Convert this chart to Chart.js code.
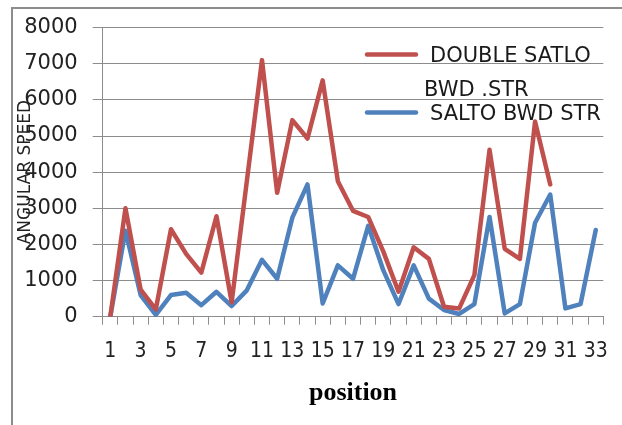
<!DOCTYPE html>
<html>
<head>
<meta charset="utf-8">
<script src="https://cdn.jsdelivr.net/npm/chart.js@4.4.1/dist/chart.umd.min.js"></script>
<style>
  html, body { margin: 0; padding: 0; background: #fff; overflow: hidden; }
  #frame {
    position: absolute; left: 11px; top: 7px; width: 700px; height: 500px;
    border-left: 2px solid #8c8c8c; border-top: 2px solid #8c8c8c;
  }
  #grafico { position: absolute; left: 0; top: 0; }
</style>
</head>
<body>
<div id="frame"></div>
<canvas id="grafico" width="622" height="425"></canvas>
<script>
// positions 1..33
const positions = Array.from({ length: 33 }, (_, i) => String(i + 1));

const doubleSaltoLabel = 'DOUBLE SATLO BWD .STR';
const doubleSalto = [0, 3000, 750, 200, 2420, 1740, 1220, 2780, 400, 3750,
  7100, 3430, 5440, 4930, 6540, 3750, 2930, 2760, 1800, 690,
  1920, 1600, 275, 230, 1150, 4620, 1880, 1600, 5400, 3660,
  null, null, null];

const saltoLabel = 'SALTO BWD STR';
const salto = [0, 2380, 600, 50, 600, 660, 320, 690, 295, 730,
  1575, 1050, 2740, 3660, 365, 1420, 1050, 2515, 1280, 350,
  1420, 500, 185, 75, 350, 2760, 90, 350, 2600, 3380,
  230, 350, 2400];

const yTicks = [0, 1000, 2000, 3000, 4000, 5000, 6000, 7000, 8000];

const gridGray = '#8c8c8c';

// legend drawn inside the plot, over the gridlines
const legendRows = [62, 120];
function wrapText(ctx, text, maxWidth) {
  const words = text.split(' ');
  const lines = [];
  let line = '';
  words.forEach(w => {
    const test = line ? line + ' ' + w : w;
    if (line && ctx.measureText(test).width > maxWidth) {
      lines.push(line);
      line = w;
    } else {
      line = test;
    }
  });
  lines.push(line);
  return lines;
}

const insideLegend = {
  id: 'insideLegend',
  afterDraw(chart) {
    const ctx = chart.ctx;
    ctx.save();
    ctx.font = '21px "DejaVu Sans"';
    ctx.fillStyle = '#1a1a1a';
    ctx.textBaseline = 'alphabetic';
    chart.data.datasets.forEach((ds, i) => {
      const y = legendRows[i];
      ctx.strokeStyle = ds.borderColor;
      ctx.lineWidth = 4.5;
      ctx.lineCap = 'round';
      ctx.beginPath();
      ctx.moveTo(367, y - 7.5);
      ctx.lineTo(416, y - 7.5);
      ctx.stroke();
      wrapText(ctx, ds.label, 178).forEach((txt, k) => {
        ctx.fillText(txt, k ? 424 : 430, y + k * 33.5);
      });
    });
    ctx.restore();
  }
};

const ctx = document.getElementById('grafico').getContext('2d');
new Chart(ctx, {
  type: 'line',
  data: {
    labels: positions,
    datasets: [
      {
        label: doubleSaltoLabel,
        data: doubleSalto,
        borderColor: '#C0504D',
        borderWidth: 4.5,
        borderJoinStyle: 'round',
        borderCapStyle: 'round',
        pointRadius: 0,
        tension: 0,
        spanGaps: false
      },
      {
        label: saltoLabel,
        data: salto,
        borderColor: '#4F81BD',
        borderWidth: 4.5,
        borderJoinStyle: 'round',
        borderCapStyle: 'round',
        pointRadius: 0,
        tension: 0
      }
    ]
  },
  options: {
    responsive: false,
    animation: false,
    layout: { padding: { top: 25, right: 16, left: 0, bottom: 0 } },
    plugins: {
      legend: { display: false },
      tooltip: { enabled: false }
    },
    scales: {
      x: {
        offset: true,
        afterFit: s => { s.height = 108.3; },
        grid: { offset: true, drawOnChartArea: false, tickLength: 8, color: gridGray },
        border: { color: gridGray },
        ticks: {
          autoSkip: false,
          maxRotation: 0,
          padding: 14,
          color: '#222',
          font: { family: '"Liberation Sans Narrow", "DejaVu Sans Condensed", sans-serif', size: 21 },
          callback: function (val, i) { return i % 2 === 0 ? this.getLabelForValue(val) : ''; }
        },
        title: {
          display: true,
          text: 'position',
          color: '#000',
          font: { family: '"Liberation Serif", serif', size: 26, weight: 'bold' },
          padding: { top: 0, bottom: 16 }
        }
      },
      y: {
        min: yTicks[0],
        max: yTicks[yTicks.length - 1],
        afterFit: s => { s.width = 102.7; },
        afterBuildTicks: s => { s.ticks = yTicks.map(v => ({ value: v })); },
        grid: { tickLength: 10, color: gridGray },
        border: { color: gridGray },
        ticks: {
          padding: 15,
          color: '#222',
          font: { family: '"DejaVu Sans", sans-serif', size: 21 },
          callback: v => String(v)
        },
        title: {
          display: true,
          text: 'ANGULAR SPEED',
          color: '#222',
          font: { family: '"DejaVu Sans", sans-serif', size: 17 },
          padding: { top: 15, bottom: 0 }
        }
      }
    }
  },
  plugins: [insideLegend]
});
</script>
</body>
</html>
